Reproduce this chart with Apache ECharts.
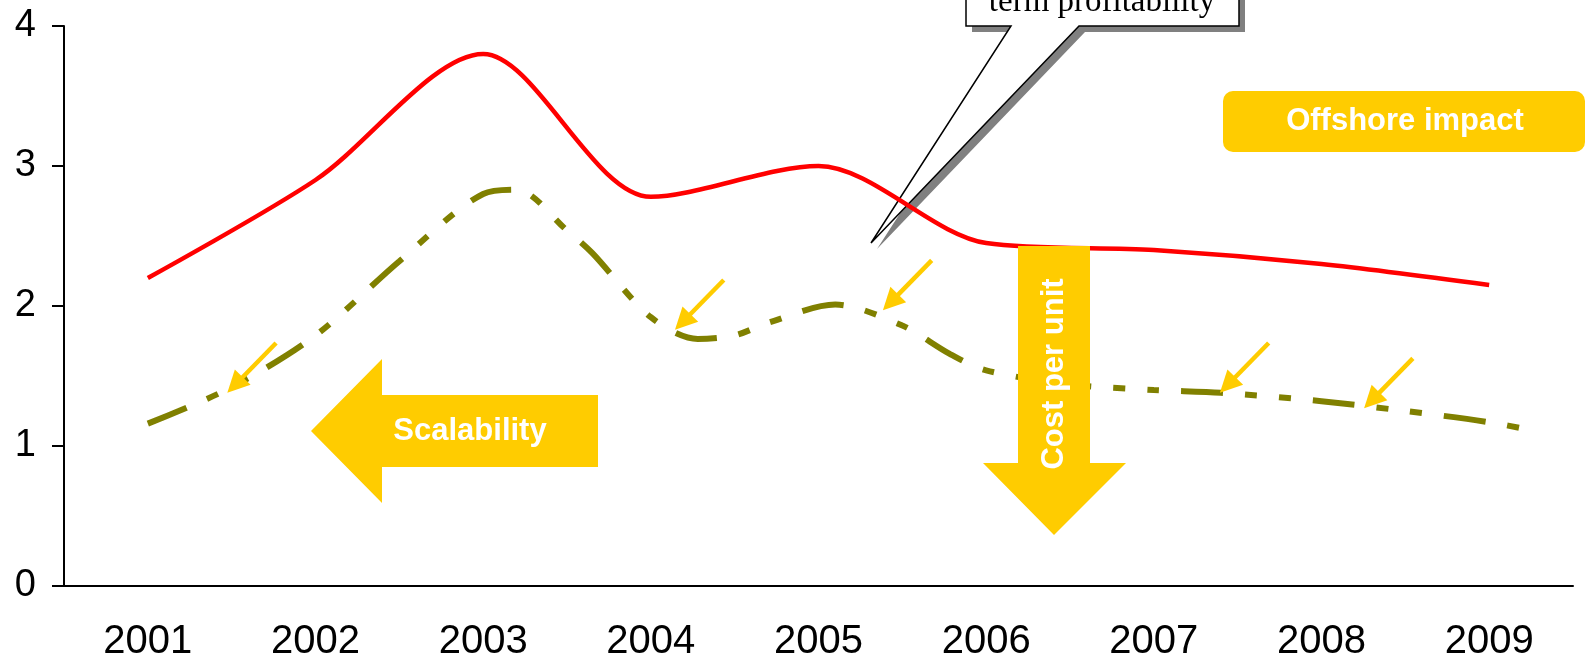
<!DOCTYPE html>
<html>
<head>
<meta charset="utf-8">
<script src="https://cdn.jsdelivr.net/npm/echarts@6/dist/echarts.min.js"></script>
<style>
  html, body { margin: 0; padding: 0; background: #fff; }
  #chart { width: 1588px; height: 658px; }
</style>
</head>
<body>
<div id="chart"></div>
<script>
// categories
var years = ['2001', '2002', '2003', '2004', '2005', '2006', '2007', '2008', '2009'];
// red line, one value per year
var redX = [1, 2, 3, 4, 5, 6, 7, 8, 9];
var redY = [2.2, 2.9, 3.8, 2.78, 3.0, 2.45, 2.4, 2.3, 2.15];
// olive dashed line
var greenX = [1.0, 1.5, 2.0, 2.5, 3.0, 3.2, 3.5, 3.65, 4.0, 4.28, 4.5, 4.7, 5.1, 5.5, 5.78, 6.0, 6.5, 7.0, 7.4, 8.0, 8.5, 9.0, 9.26];
var greenY = [1.16, 1.42, 1.79, 2.32, 2.8, 2.83, 2.54, 2.38, 1.92, 1.765, 1.79, 1.88, 2.01, 1.86, 1.66, 1.54, 1.44, 1.4, 1.38, 1.32, 1.25, 1.17, 1.11];
// small yellow arrows, tips on the olive line
var arrowTipX = [1.49, 4.16, 5.40, 7.41, 8.27];
var arrowTipY = [1.40, 1.85, 1.99, 1.40, 1.29];
var yTicks = [0, 1, 2, 3, 4];

var chart = echarts.init(document.getElementById('chart'));

var axisFont = "'Liberation Sans', Arial, sans-serif";
var boldFont = "'Liberation Sans', Arial, sans-serif";
var yellow = '#FFCC00';

function pairs(xs, ys) {
	var out = [];
	for (var i = 0; i < xs.length; i++) out.push([xs[i], ys[i]]);
	return out;
}

var arrowData = [];
for (var i = 0; i < arrowTipX.length; i++) {
	arrowData.push({coords: [[arrowTipX[i] + 0.275, arrowTipY[i] + 0.336], [arrowTipX[i] + 0.03, arrowTipY[i] + 0.036]]});
}

var option = {
	animation: false,
	grid: { left: 64, right: 15, top: 26, bottom: 72, outerBoundsMode: 'none' },
	xAxis: [
		{
			type: 'category',
			data: years,
			boundaryGap: true,
			axisLine: { lineStyle: { color: '#000', width: 2 } },
			axisTick: { length: 12, lineStyle: { color: '#000', width: 2 } },
			axisLabel: { color: '#000', fontSize: 40, fontFamily: axisFont, margin: 36 },
			splitLine: { show: false }
		},
		{
			type: 'value',
			min: 0.5,
			max: 9.5,
			show: false
		}
	],
	yAxis: {
		type: 'value',
		min: yTicks[0],
		max: yTicks[yTicks.length - 1],
		interval: 1,
		axisLine: { show: true, lineStyle: { color: '#000', width: 2 } },
		axisTick: { show: true, length: 12, lineStyle: { color: '#000', width: 2 } },
		axisLabel: { color: '#000', fontSize: 38, fontFamily: axisFont, margin: 28 },
		splitLine: { show: false }
	},
	graphic: [
		// callout shadow + box
		{
			type: 'polygon', z: 1,
			shape: { points: [[972, -10], [1245, -10], [1245, 32], [1085, 32], [877, 249], [1017, 32], [972, 32]] },
			style: { fill: '#808080' }
		},
		{
			type: 'polygon', z: 1,
			shape: { points: [[966, -10], [1239, -10], [1239, 26], [1079, 26], [871, 243], [1011, 26], [966, 26]] },
			style: { fill: '#fff', stroke: '#000', lineWidth: 1.5 }
		},
		{
			type: 'text', z: 1, x: 1102, y: 19,
			style: { text: 'term profitability', font: "33px 'Liberation Serif', 'Times New Roman', serif", fill: '#000', textAlign: 'center', textVerticalAlign: 'bottom' }
		},
		// Scalability arrow
		{
			type: 'polygon', z: 10,
			shape: { points: [[598, 395], [382, 395], [382, 359], [311, 431], [382, 503], [382, 467], [598, 467]] },
			style: { fill: yellow }
		},
		{
			type: 'text', z: 11, x: 470, y: 431,
			style: { text: 'Scalability', font: 'bold 31px ' + boldFont, fill: '#fff', textAlign: 'center', textVerticalAlign: 'middle' }
		},
		// Cost per unit arrow
		{
			type: 'polygon', z: 10,
			shape: { points: [[1018, 246], [1090, 246], [1090, 463], [1126, 463], [1054, 535], [983, 463], [1018, 463]] },
			style: { fill: yellow }
		},
		{
			type: 'text', z: 11, x: 1054, y: 374, rotation: Math.PI / 2,
			style: { text: 'Cost per unit', font: 'bold 31px ' + boldFont, fill: '#fff', textAlign: 'center', textVerticalAlign: 'middle' }
		},
		// Offshore impact box
		{
			type: 'rect', z: 10,
			shape: { x: 1223, y: 91, width: 362, height: 61, r: 10 },
			style: { fill: yellow }
		},
		{
			type: 'text', z: 11, x: 1405, y: 121,
			style: { text: 'Offshore impact', font: 'bold 31px ' + boldFont, fill: '#fff', textAlign: 'center', textVerticalAlign: 'middle' }
		}
	],
	series: [
		{
			name: 'red',
			type: 'line',
			xAxisIndex: 1,
			data: pairs(redX, redY),
			smooth: 0.3,
			showSymbol: false,
			symbol: 'none',
			z: 3,
			lineStyle: { color: '#FF0000', width: 4.5 }
		},
		{
			name: 'olive',
			type: 'line',
			xAxisIndex: 1,
			data: pairs(greenX, greenY),
			smooth: 0.3,
			showSymbol: false,
			symbol: 'none',
			z: 2,
			lineStyle: { color: '#808000', width: 6, type: [42, 22, 12, 22, 12, 22], cap: 'butt' }
		},
		{
			name: 'pointers',
			type: 'lines',
			coordinateSystem: 'cartesian2d',
			xAxisIndex: 1,
			data: arrowData,
			symbol: ['none', 'path://M5,0L10,10L0,10Z'],
			symbolSize: [22, 22],
			z: 12,
			lineStyle: { color: yellow, width: 4.5, opacity: 1, curveness: 0 }
		}
	]
};
chart.setOption(option);
</script>
</body>
</html>
